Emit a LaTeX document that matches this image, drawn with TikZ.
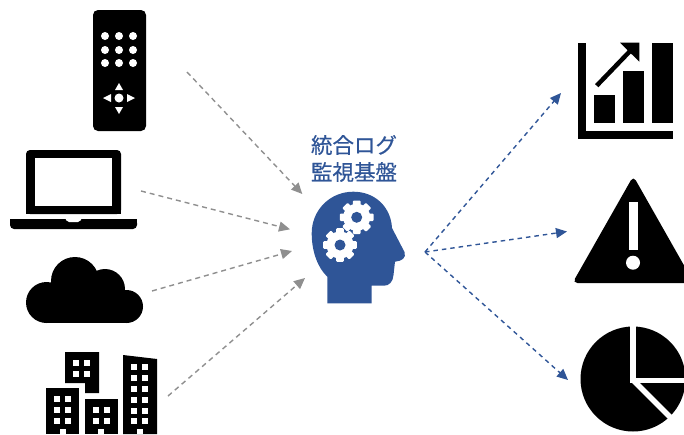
\documentclass[tikz,border=0pt]{standalone}
\usepackage{xcolor}
\usepackage{fontspec}
\newfontfamily\cjk[FakeBold=0.5]{Noto Sans CJK JP}
\usetikzlibrary{arrows.meta,positioning}
\definecolor{headblue}{HTML}{2F5597}
\definecolor{arrowgray}{HTML}{8F8F8F}
\tikzset{
  inflow/.style={draw=arrowgray, line width=1.4pt, dash pattern=on 5pt off 4pt, -{Triangle[length=11pt,width=10pt]}},
  outflow/.style={draw=headblue, line width=1.4pt, dash pattern=on 4.5pt off 4pt, -{Triangle[length=11pt,width=10pt]}},
  windowbox/.style={fill=white},
  titletext/.style={text=headblue, align=center, font=\cjk\fontsize{21.5}{27}\selectfont, inner sep=0pt}
}
\newcommand{\gearicon}[2]{
  \begin{scope}[shift={(#1,#2)}]
    \foreach \a in {0,45,90,135}
      \fill[white, rotate=\a, rounded corners=1pt] (-3.8,-16.8) rectangle (3.8,16.8);
    \fill[white] (0,0) circle (13.5);
    \fill[headblue] (0,0) circle (5.5);
  \end{scope}
}
\begin{document}
\begin{tikzpicture}[x=1pt,y=-1pt]
\useasboundingbox (0,0) rectangle (684,434);
\clip (0,0) rectangle (684,434);
% Remote control
\fill[black, rounded corners=5pt] (93,10) rectangle (146,131);
\foreach \x in {105,119,133}
  \foreach \y in {36,50,63}
    \fill[white] (\x,\y) circle (4);
\fill[white] (119,98) circle (4.5);
\fill[white] (119,83) -- (123,90) -- (115,90) -- cycle;
\fill[white] (119,114) -- (123,107) -- (115,107) -- cycle;
\fill[white] (103,98) -- (111,94) -- (111,102) -- cycle;
\fill[white] (135,98) -- (127,94) -- (127,102) -- cycle;
% Laptop
\fill[black, rounded corners=4pt] (26,214) -- (26,150) -- (121,150) -- (121,214) -- cycle;
\fill[black] (26,208) rectangle (121,214);
\fill[white] (35,158) rectangle (112,206);
\fill[black, rounded corners=4pt] (10,219) -- (10,229) -- (137,229) -- (137,219) -- cycle;
\fill[black] (10,219) rectangle (137,223);
\fill[white, rounded corners=2pt] (65,218) -- (67,222) -- (80,222) -- (82,218) -- cycle;
% Cloud
\fill[black] (46.5,302.5) circle (20.5);
\fill[black] (75,281) circle (24);
\fill[black] (105,289) circle (20);
\fill[black] (126.5,306.5) circle (16.5);
\fill[black] (46.5,290) rectangle (126.5,323);
% Buildings
\fill[black] (65,352) -- (99,352) -- (99,393) -- (85,393) -- (85,383) -- (65,383) -- cycle;
\fill[black] (46,388) rectangle (79,434);
\fill[black] (85,399) rectangle (118,434);
\fill[black] (123,355) -- (157,359) -- (157,434) -- (123,434) -- cycle;
\foreach \x in {76,87}
  \foreach \y in {363,374}
    \fill[windowbox] (\x-3,\y-3) rectangle (\x+3,\y+3);
\foreach \x in {57,68}
  \foreach \y in {399,410,421}
    \fill[windowbox] (\x-3,\y-3) rectangle (\x+3,\y+3);
\foreach \x in {96,107}
  \foreach \y in {410,421}
    \fill[windowbox] (\x-3,\y-3) rectangle (\x+3,\y+3);
\foreach \x in {134,145}
  \foreach \y in {367,378,389,400,411,421}
    \fill[windowbox] (\x-3,\y-3) rectangle (\x+3,\y+3);
\foreach \x in {62.5,101,140}
  \fill[windowbox] (\x-3,429) rectangle (\x+3,434);
% Head with gears
\fill[headblue] (327.3,303.3) -- (327.3,276.7)
  .. controls (318,268) and (311.7,252) .. (311.7,233.3)
  .. controls (311.7,210) and (330,191.7) .. (353.3,191.7)
  .. controls (376,191.7) and (391,208) .. (392,228)
  -- (404.5,252) .. controls (406.5,258) and (402,261) .. (395,261.7)
  -- (393.5,275) .. controls (393,282) and (389,285.7) .. (384,285.7)
  -- (371.7,285.7) -- (371.7,303.3) -- cycle;
\gearicon{356.7}{217.3}
\gearicon{340}{245}
\node[titletext] (title) at (354,158.5) {統合ログ\\監視基盤};
% Chart
\fill[black] (577.7,42.7) rectangle (585.7,139.3);
\fill[black] (577.7,131) rectangle (673.3,139.3);
\fill[black] (594,95.3) rectangle (615,123);
\fill[black] (623.3,70.7) rectangle (644.3,123);
\fill[black] (652.3,42.7) rectangle (673.3,123);
\draw[black, line width=4.5pt] (596.7,85.7) -- (633,48);
\fill[black] (620,42.7) -- (639.3,42.7) -- (639.3,61.7) -- cycle;
% Warning
\fill[black, rounded corners=5pt] (633.3,176) -- (694,283) -- (572.5,283) -- cycle;
\fill[white] (629,201.7) rectangle (637.7,250);
\fill[white] (633,262.7) circle (7);
% Pie
\fill[black] (633,379) circle (52.5);
\draw[white, line width=5.5pt] (633.2,320) -- (633.2,380.3) -- (690,380.3);
\draw[white, line width=5.5pt] (633.2,380.3) -- (675,422);
% Arrows
\coordinate (remoteout) at (187,72);
\coordinate (laptopout) at (141,191);
\coordinate (cloudout) at (152,291);
\coordinate (cityout) at (168,396);
\coordinate (headin1) at (302.3,194);
\coordinate (headin2) at (290,229.3);
\coordinate (headin3) at (292,251);
\coordinate (headin4) at (305,278);
\coordinate (headout) at (425,252);
\coordinate (chartin) at (561,93);
\coordinate (warnin) at (567,231.5);
\coordinate (piein) at (568,380);
\draw[inflow] (remoteout) -- (headin1);
\draw[inflow] (laptopout) -- (headin2);
\draw[inflow] (cloudout) -- (headin3);
\draw[inflow] (cityout) -- (headin4);
\draw[outflow] (headout) -- (chartin);
\draw[outflow] (headout) -- (warnin);
\draw[outflow] (headout) -- (piein);
\end{tikzpicture}
\end{document}
